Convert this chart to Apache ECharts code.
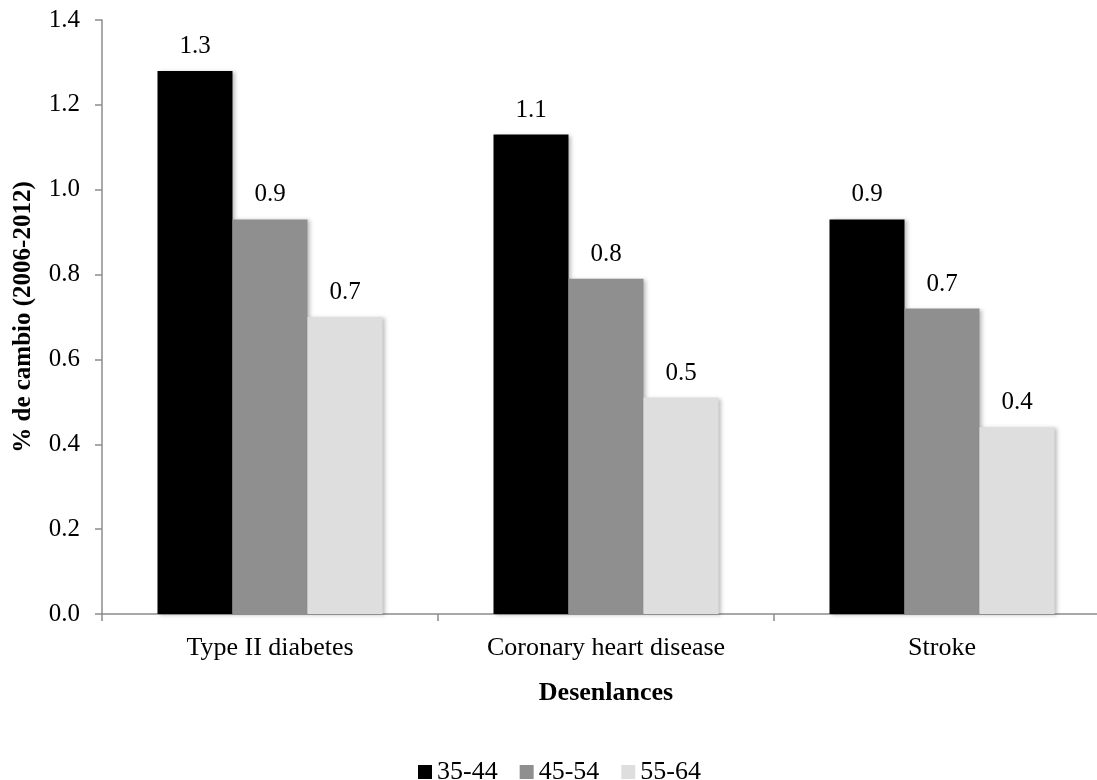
<!DOCTYPE html>
<html>
<head>
<meta charset="utf-8">
<script src="https://cdn.jsdelivr.net/npm/echarts@6/dist/echarts.min.js"></script>
<style>
html,body{margin:0;padding:0;background:#fff;}
#chart{width:1097px;height:780px;}
</style>
</head>
<body>
<div id="chart"></div>
<script>
const categories = ['Type II diabetes', 'Coronary heart disease', 'Stroke'];
const seriesNames = ['35-44', '45-54', '55-64'];
const values3544 = [1.28, 1.13, 0.93];
const values4554 = [0.93, 0.79, 0.72];
const values5564 = [0.70, 0.51, 0.44];
const yTicks = { min: 0, max: 1.4, interval: 0.2 };
const yTitle = '% de cambio (2006-2012)';
const xTitle = 'Desenlances';

const colors = ['#000000', '#8f8f8f', '#dedede'];
const font = 'Liberation Serif';
const allValues = [values3544, values4554, values5564];

const chart = echarts.init(document.getElementById('chart'));
chart.setOption({
  animation: false,
  backgroundColor: '#ffffff',
  textStyle: { fontFamily: font, color: '#000' },
  grid: { left: 102, top: 20, width: 1008, height: 594, containLabel: false, outerBoundsMode: 'none' },
  legend: {
    data: seriesNames,
    left: 413, top: 754,
    icon: 'rect', itemWidth: 14, itemHeight: 14, itemGap: 22,
    textStyle: { fontFamily: font, fontSize: 26, color: '#000' }
  },
  xAxis: {
    type: 'category',
    data: categories,
    name: xTitle,
    nameLocation: 'middle',
    nameGap: 66,
    nameTextStyle: { fontFamily: font, fontSize: 26, fontWeight: 'bold', color: '#000' },
    axisLine: { lineStyle: { color: '#8c8c8c', width: 1.5 } },
    axisTick: { show: true, length: 7, lineStyle: { color: '#8c8c8c', width: 1.5 } },
    axisLabel: { fontFamily: font, fontSize: 26, color: '#000', margin: 21 },
    splitLine: { show: false }
  },
  yAxis: {
    type: 'value',
    min: yTicks.min, max: yTicks.max, interval: yTicks.interval,
    name: yTitle,
    nameLocation: 'middle',
    nameGap: 66,
    nameRotate: 90,
    nameTextStyle: { fontFamily: font, fontSize: 25, fontWeight: 'bold', color: '#000' },
    axisLine: { show: true, lineStyle: { color: '#8c8c8c', width: 1.5 } },
    axisTick: { show: true, length: 7, lineStyle: { color: '#8c8c8c', width: 1.5 } },
    axisLabel: { fontFamily: font, fontSize: 25, color: '#000', margin: 22,
      formatter: v => v.toFixed(1) },
    splitLine: { show: false }
  },
  series: seriesNames.map((name, i) => ({
    name: name,
    type: 'bar',
    data: allValues[i],
    barWidth: 75,
    barGap: '0%',
    itemStyle: {
      color: colors[i],
      shadowColor: 'rgba(0,0,0,0.25)', shadowBlur: 4, shadowOffsetX: 2, shadowOffsetY: 1
    },
    label: {
      show: true, position: 'top', distance: 12,
      fontFamily: font, fontSize: 25, color: '#000',
      formatter: p => p.value.toFixed(1)
    }
  }))
});
</script>
</body>
</html>
